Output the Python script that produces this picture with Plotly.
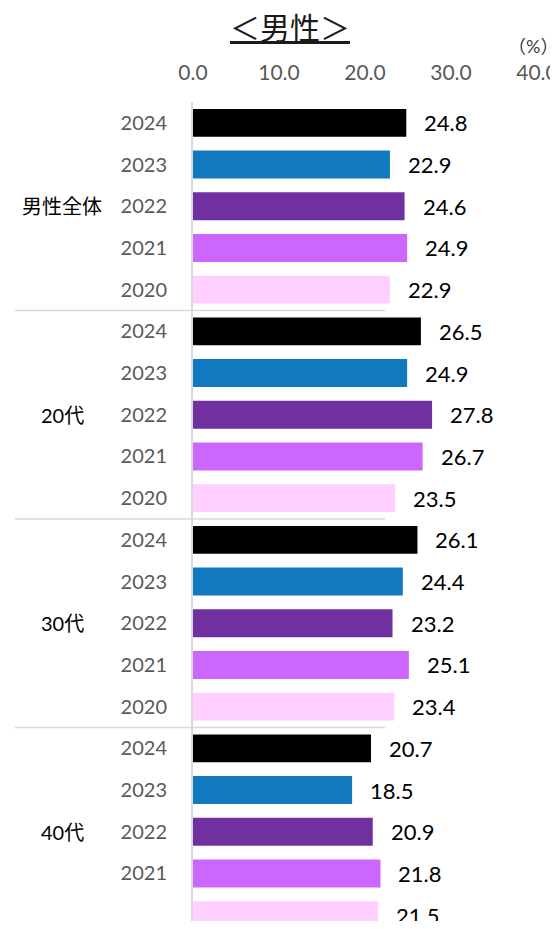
import plotly.graph_objects as go

groups = ["男性全体", "20代", "30代", "40代"]
years = ["2024", "2023", "2022", "2021", "2020"]
values = {
    "男性全体": [24.8, 22.9, 24.6, 24.9, 22.9],
    "20代": [26.5, 24.9, 27.8, 26.7, 23.5],
    "30代": [26.1, 24.4, 23.2, 25.1, 23.4],
    "40代": [20.7, 18.5, 20.9, 21.8, 21.5],
}
year_colors = ["#000000", "#1279BF", "#7030A0", "#CC66FF", "#FFD0FF"]
x_ticks = [0, 10, 20, 30, 40]

FONT = "Lato, 'Noto Sans CJK JP', sans-serif"
OFF = 8  # default page body margin
W, H = 558 - OFF, 929 - 2 * OFF
L = 193 - OFF
R = W - (537 - OFF)
T = 102 - OFF
B = 0
PW = W - L - R
PH = H - T - B
ROW = 41.7


def px(xr):
    return (xr - OFF - L) / PW


def py(yr):
    return (H - B - (yr - OFF)) / PH


ys, xs, cols, ylabels = [], [], [], []
i = 0
for g in groups:
    for k, yr in enumerate(years):
        ys.append(i)
        xs.append(values[g][k])
        cols.append(year_colors[k])
        ylabels.append(yr)
        i += 1

fig = go.Figure()
fig.add_trace(go.Bar(
    x=xs, y=ys, orientation="h", marker=dict(color=cols, line=dict(width=0)),
    width=0.67, showlegend=False, hoverinfo="x+y",
))

span = PH / ROW

annotations = []
for x, y in zip(xs, ys):
    annotations.append(dict(x=x, y=y, xref="x", yref="y", text=f"{x:.1f}",
                            showarrow=False, xanchor="left", xshift=16,
                            font=dict(family=FONT, size=22, color="#000000")))
for gi, g in enumerate(groups):
    annotations.append(dict(x=px(62), y=gi * 5 + 2, xref="paper", yref="y", text=g,
                            showarrow=False, xanchor="center",
                            font=dict(family=FONT, size=20, color="#000000")))
annotations.append(dict(x=px(290), y=py(27), xref="paper", yref="paper",
                        text="<u>＜男性＞</u>", showarrow=False, xanchor="center", yanchor="middle",
                        font=dict(family=FONT, size=30, color="#1A1A1A")))
annotations.append(dict(x=px(533), y=py(46), xref="paper", yref="paper",
                        text="（%）", showarrow=False, xanchor="center", yanchor="middle",
                        font=dict(family=FONT, size=18, color="#404040")))

shapes = []
for b in [-0.62, 4.5, 9.5, 14.5]:
    shapes.append(dict(type="line", xref="paper", yref="y",
                       x0=px(15), x1=px(385), y0=b, y1=b,
                       line=dict(color="#D9D9D9", width=1.5)))

fig.update_layout(
    width=W, height=H,
    margin=dict(l=L, r=R, t=T, b=B, autoexpand=False),
    paper_bgcolor="white", plot_bgcolor="white",
    xaxis=dict(side="top", range=[0, 40], tickvals=x_ticks, tickformat=".1f",
               showgrid=False, zeroline=False, showline=False, ticks="",
               tickfont=dict(family=FONT, size=21, color="#595959"),
               ticklabelstandoff=17, ticklabeloverflow="allow",
               automargin=False, fixedrange=True),
    yaxis=dict(range=[-0.5 + span, -0.5], tickvals=ys, ticktext=ylabels,
               showgrid=False, zeroline=False, showline=True, linecolor="#D9D9D9",
               linewidth=2, ticks="", ticklabelstandoff=20,
               tickfont=dict(family=FONT, size=20, color="#595959"),
               automargin=False, fixedrange=True),
    annotations=annotations, shapes=shapes,
)

fig.write_html("out.html")
